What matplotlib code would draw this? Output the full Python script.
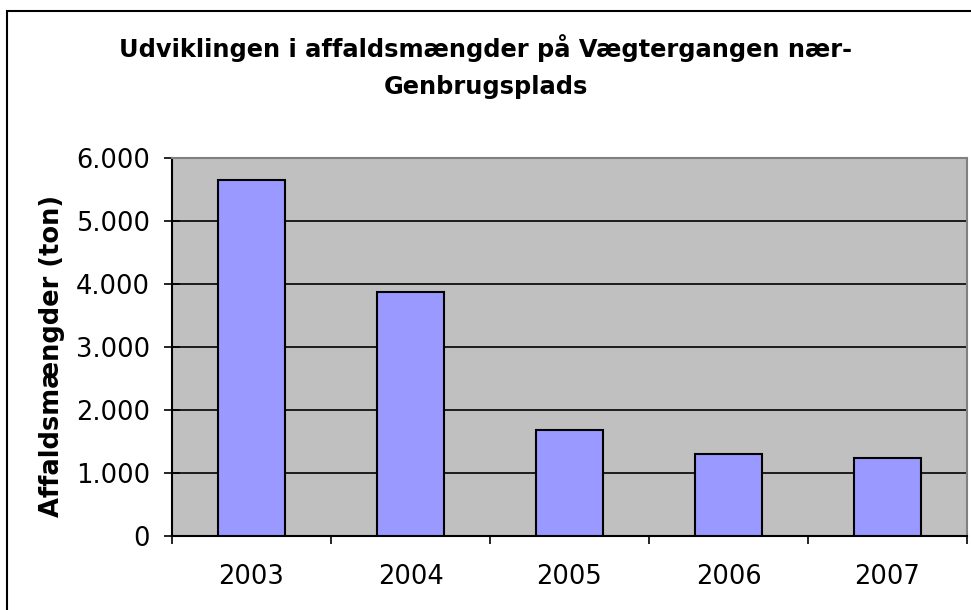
import matplotlib.pyplot as plt
from matplotlib.patches import Rectangle
from matplotlib.ticker import FuncFormatter, FixedLocator, NullFormatter

years = ['2003', '2004', '2005', '2006', '2007']
tons = [5655, 3875, 1680, 1300, 1235]

title = 'Udviklingen i affaldsmængder på Vægtergangen nær-\nGenbrugsplads'
ylabel = 'Affaldsmængder (ton)'

plt.rcParams['font.family'] = 'DejaVu Sans'

fig = plt.figure(figsize=(9.71, 6.10), dpi=100)
ax = fig.add_axes([172 / 971, 74 / 610, 795 / 971, 378 / 610])

x = range(len(years))
ax.bar(x, tons, width=0.42, color='#9999FF', edgecolor='black', linewidth=1.5, zorder=3)

ax.set_facecolor('#C0C0C0')
ax.set_xlim(-0.5, len(years) - 0.5)
ax.set_ylim(0, 6000)
ax.set_yticks(range(0, 6001, 1000))
ax.yaxis.set_major_formatter(FuncFormatter(lambda v, p: f'{int(v):,}'.replace(',', '.')))
ax.grid(axis='y', color='black', linewidth=1.2, zorder=1)

# category labels centred, ticks between categories
ax.xaxis.set_major_locator(FixedLocator([i - 0.5 for i in range(len(years) + 1)]))
ax.xaxis.set_major_formatter(NullFormatter())
ax.xaxis.set_minor_locator(FixedLocator(list(x)))
ax.set_xticklabels(years, minor=True)
ax.tick_params(axis='x', which='major', direction='out', length=6, width=1.2, color='black')
ax.tick_params(axis='x', which='minor', length=0, pad=20, labelsize=18.5)
ax.tick_params(axis='y', direction='inout', length=12, width=1.2, pad=10, labelsize=18.5)

for side in ['left', 'bottom']:
    ax.spines[side].set_color('black')
    ax.spines[side].set_linewidth(1.5)
for side in ['top', 'right']:
    ax.spines[side].set_color('#808080')
    ax.spines[side].set_linewidth(1.5)

ax.set_ylabel(ylabel, fontsize=18.5, fontweight='bold')
ax.yaxis.set_label_coords(-0.134, 0.476)

fig.text(0.5, 1 - 66.5 / 610, title, ha='center', va='center', fontsize=17.4,
         fontweight='bold', linespacing=1.72)

fig.patches.append(Rectangle((6.5 / 971, -0.1), 1.2, 1 - 11 / 610 + 0.1, transform=fig.transFigure,
                             fill=False, edgecolor='black', linewidth=1.5))

fig.savefig('out.png', dpi=100)
